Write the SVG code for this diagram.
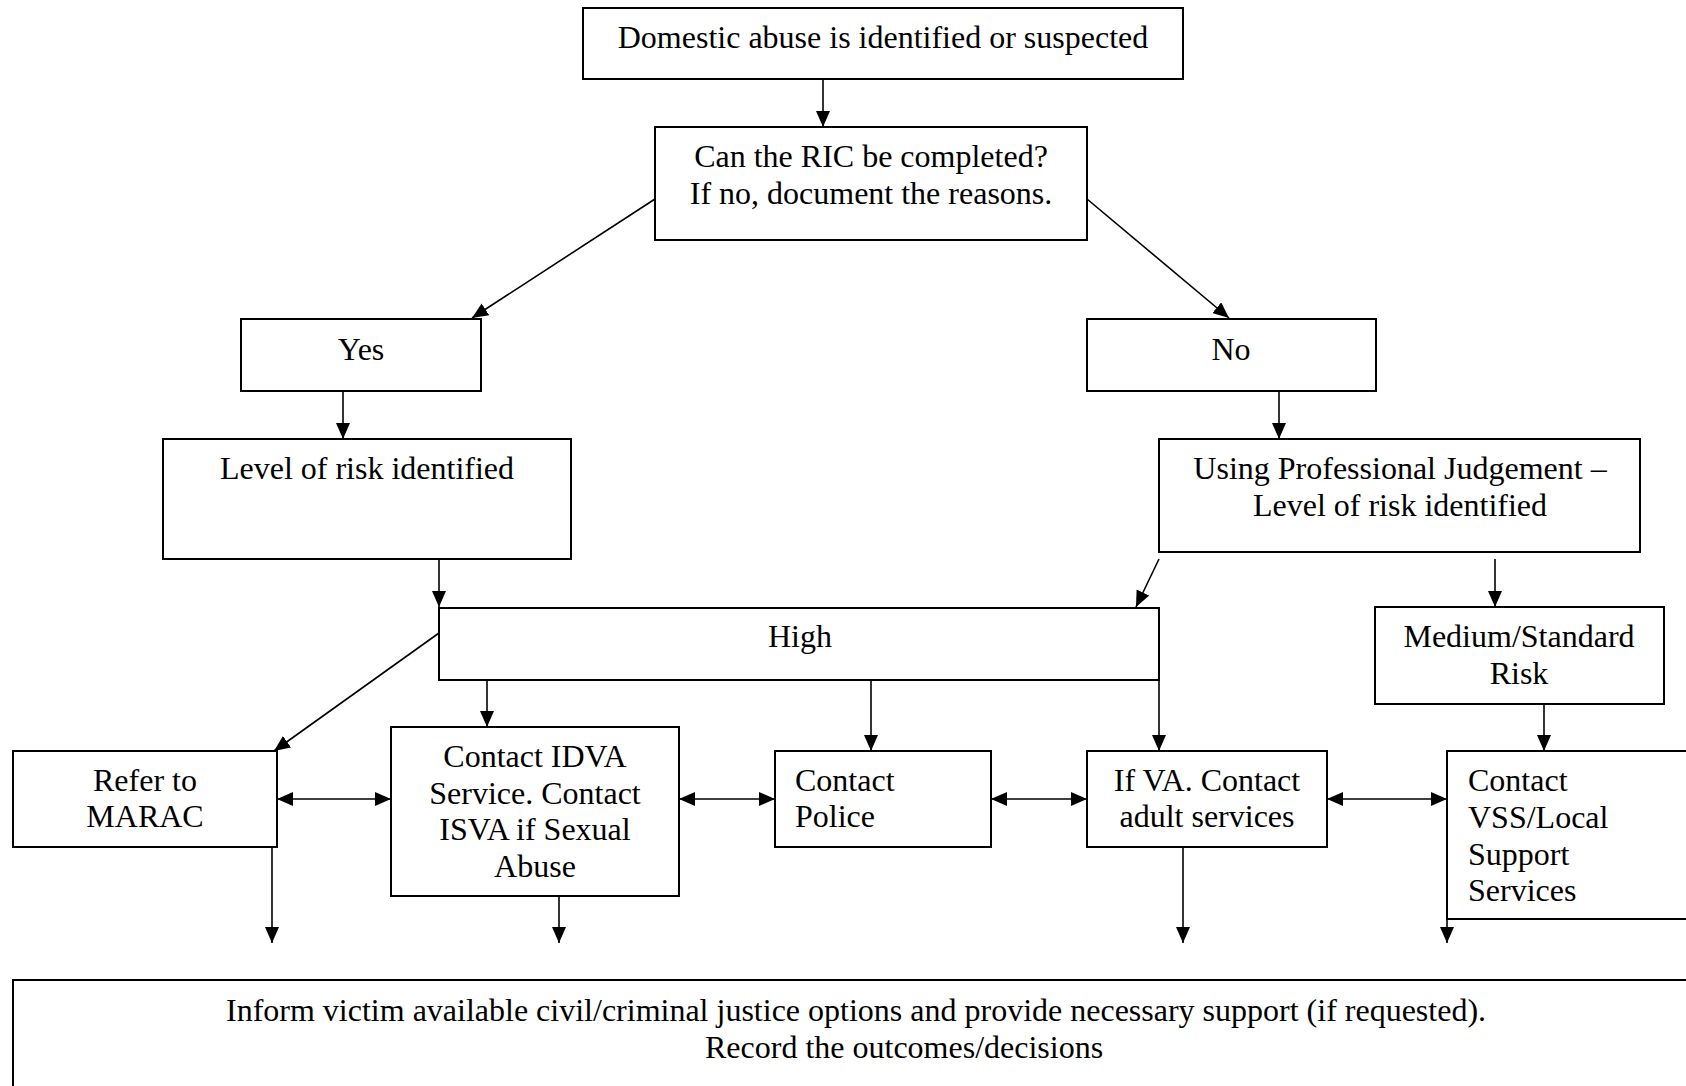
<svg xmlns="http://www.w3.org/2000/svg" width="1686" height="1086" viewBox="0 0 1686 1086">
<style>
.box{fill:#fff;stroke:#000;stroke-width:2}
.t{font-family:"Liberation Serif","Times New Roman",serif;font-size:32px;fill:#000}
.m{text-anchor:middle}
.c{fill:none;stroke:#000;stroke-width:1.6}
.a{marker-end:url(#ah)}
.d{marker-start:url(#ah);marker-end:url(#ah)}
</style>
<defs>
<marker id="ah" markerUnits="userSpaceOnUse" markerWidth="16" markerHeight="14" refX="16" refY="7" orient="auto-start-reverse">
<path d="M0,0 L16,7 L0,14 z" fill="#000"/>
</marker>
</defs>
<rect width="1686" height="1086" fill="#fff"/>
<g id="n-domestic"><rect class="box" x="583" y="8" width="600" height="71"/><text class="t m" x="883" y="48">Domestic abuse is identified or suspected</text></g>
<g id="n-ric"><rect class="box" x="655" y="127" width="432" height="113"/><text class="t m" x="871" y="167">Can the RIC be completed?</text><text class="t m" x="871" y="204">If no, document the reasons.</text></g>
<g id="n-yes"><rect class="box" x="241" y="319" width="240" height="72"/><text class="t m" x="361" y="360">Yes</text></g>
<g id="n-no"><rect class="box" x="1087" y="319" width="289" height="72"/><text class="t m" x="1231" y="360">No</text></g>
<g id="n-level"><rect class="box" x="163" y="439" width="408" height="120"/><text class="t m" x="367" y="479">Level of risk identified</text></g>
<g id="n-using"><rect class="box" x="1159" y="439" width="481" height="113"/><text class="t m" x="1400" y="479">Using Professional Judgement –</text><text class="t m" x="1400" y="516">Level of risk identified</text></g>
<g id="n-high"><rect class="box" x="439" y="608" width="720" height="72"/><text class="t m" x="800" y="647">High</text></g>
<g id="n-medium"><rect class="box" x="1375" y="607" width="289" height="97"/><text class="t m" x="1519" y="647">Medium/Standard</text><text class="t m" x="1519" y="684">Risk</text></g>
<g id="n-marac"><rect class="box" x="13" y="751" width="264" height="96"/><text class="t m" x="145" y="791">Refer to</text><text class="t m" x="145" y="827">MARAC</text></g>
<g id="n-idva"><rect class="box" x="391" y="727" width="288" height="169"/><text class="t m" x="535" y="767">Contact IDVA</text><text class="t m" x="535" y="804">Service. Contact</text><text class="t m" x="535" y="840">ISVA if Sexual</text><text class="t m" x="535" y="877">Abuse</text></g>
<g id="n-police"><rect class="box" x="775" y="751" width="216" height="96"/><text class="t" x="795" y="791">Contact</text><text class="t" x="795" y="827">Police</text></g>
<g id="n-va"><rect class="box" x="1087" y="751" width="240" height="96"/><text class="t m" x="1207" y="791">If VA. Contact</text><text class="t m" x="1207" y="827">adult services</text></g>
<g id="n-vss"><rect class="box" x="1447" y="751" width="260" height="168"/><text class="t" x="1468" y="791">Contact</text><text class="t" x="1468" y="828">VSS/Local</text><text class="t" x="1468" y="865">Support</text><text class="t" x="1468" y="901">Services</text></g>
<g id="n-inform"><rect class="box" x="13" y="980" width="1700" height="130"/><text class="t" x="226" y="1021">Inform victim available civil/criminal justice options and provide necessary support (if requested).</text><text class="t" x="705" y="1058">Record the outcomes/decisions</text></g>
<g id="connectors">
<line class="c a" x1="823" y1="79" x2="823" y2="127"/>
<line class="c a" x1="655" y1="199" x2="472" y2="318"/>
<line class="c a" x1="1087" y1="199" x2="1229" y2="318"/>
<line class="c a" x1="343" y1="391" x2="343" y2="439"/>
<line class="c a" x1="1279" y1="391" x2="1279" y2="439"/>
<line class="c a" x1="439" y1="559" x2="439" y2="607"/>
<line class="c a" x1="1159" y1="559" x2="1136" y2="607"/>
<line class="c a" x1="1495" y1="559" x2="1495" y2="607"/>
<line class="c a" x1="439" y1="633" x2="274" y2="751"/>
<line class="c a" x1="487" y1="680" x2="487" y2="727"/>
<line class="c a" x1="871" y1="680" x2="871" y2="751"/>
<line class="c a" x1="1159" y1="657" x2="1159" y2="751"/>
<line class="c a" x1="1544" y1="704" x2="1544" y2="751"/>
<line class="c d" x1="277" y1="799" x2="391" y2="799"/>
<line class="c d" x1="679" y1="799" x2="775" y2="799"/>
<line class="c d" x1="991" y1="799" x2="1087" y2="799"/>
<line class="c d" x1="1327" y1="799" x2="1447" y2="799"/>
<line class="c a" x1="272" y1="847" x2="272" y2="943"/>
<line class="c a" x1="559" y1="896" x2="559" y2="943"/>
<line class="c a" x1="1183" y1="847" x2="1183" y2="943"/>
<line class="c a" x1="1447" y1="900" x2="1447" y2="943"/>
</g>
</svg>
